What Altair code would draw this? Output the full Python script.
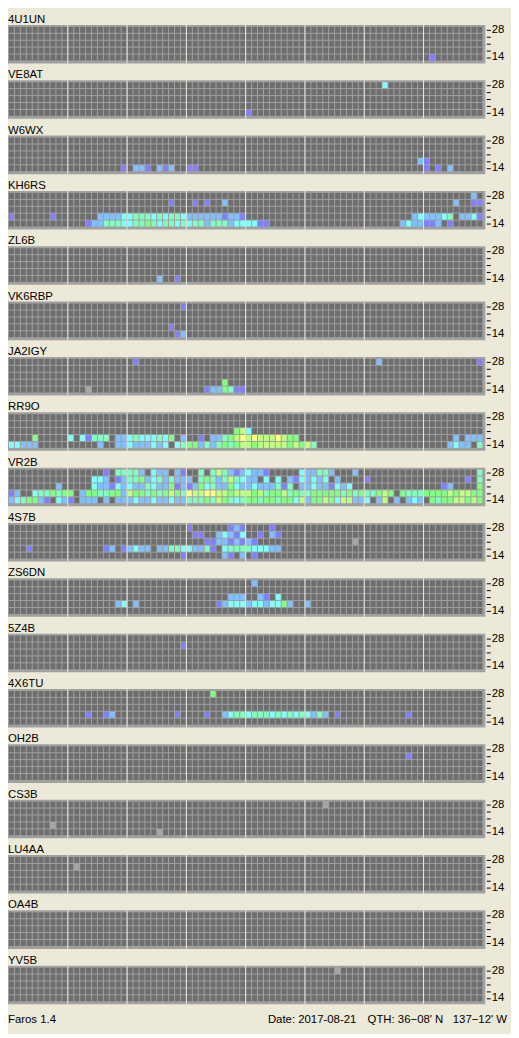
import altair as alt
import pandas as pd

FONT = "Liberation Sans"
BG = "#ece9d8"
FRAME = "#a0a0a0"

STATIONS = ["4U1UN", "VE8AT", "W6WX", "KH6RS", "ZL6B", "VK6RBP", "JA2IGY", "RR9O", "VR2B",
            "4S7B", "ZS6DN", "5Z4B", "4X6TU", "OH2B", "CS3B", "LU4AA", "OA4B", "YV5B"]
BANDS = ["28", "24", "21", "18", "14"]
N_COLS = 80
SEPARATOR_COLS = [10, 20, 30, 40, 50, 60, 70]
LEVEL_CODES = [".", "g", "p", "b", "c", "a", "G", "y", "Y"]
LEVEL_COLORS = ["#6e6e6e", "#a6a6a6", "#8080ff", "#80c0ff", "#80ffff", "#80ffc0", "#80ff80", "#c0ff80", "#ffff80"]

# runs per band row (28, 24, 21, 18, 14): "start_column:codes"
S_4U1UN = [[], [], [], [], ["71:p"]]
S_VE8AT = [["63:c"], [], [], [], ["40:p"]]
S_W6WX = [[], [], [], ["69:bp"], ["19:p.bbp.bpb", "30:pp", "70:p.p.b"]]
S_KH6RS = [["78:b"],
           ["27:p", "31:p.p..b", "75:b..pp"],
           [],
           ["0:p", "7:p", "15:bbbbc", "20:caaacacaac", "30:bbbbbbpbbp", "68:bc", "70:bbbca.bbcp"],
           ["13:pbbaaac", "20:caaGacaaca", "30:caabaaabcc", "40:ccpp", "66:bcbb", "70:ppb.p"]]
S_ZL6B = [[], [], [], [], ["25:b..p"]]
S_VK6RBP = [["29:p"], [], [], ["27:p"], ["28:pb"]]
S_JA2IGY = [["21:p", "62:b", "79:p"], [], [], ["36:G"], ["13:g", "33:pbbGapp"]]
S_RR9O = [[], [],
          ["38:Gyc"],
          ["4:G", "10:c.cpaaa.bb", "20:cacccacG.b", "30:..p.bbaGyY", "40:yYyyyYyGG.", "75:b.bbb"],
          ["0:ccbbb", "15:b..bb", "20:cbbbcbc.ca", "30:GGbabaGaGy", "40:yGyyyyyGyG", "50:ya", "74:bcbb.a"]]
S_VR2B = [["10:......p.aa", "20:aab.cbb.bp", "30:..a.ayabpb", "40:cbbp.....c", "50:bbaab...b.", "79:a"],
          ["10:....ccb.pb", "20:aaGbcababb", "30:b.aGabayac", "40:bb.c.c.bpc", "50:bcbc.b", "60:p", "77:p.a"],
          ["8:b", "10:....cbbpcb", "20:cbbacbbGpb", "30:pbGcabbGcb", "40:bcbbbapa.b", "50:bcbbpcbc", "73:pb", "79:G"],
          ["0:pb..caaGaG", "10:G.bGGaaGGb", "20:yGGaGaGyGa", "30:YyyYYyyGyy", "40:yGyaGGyaGa",
           "50:aGGGGGaGaG", "60:aaGyG.Gaaa", "70:GGGGyGyyGG"],
          ["0:bcaGGbp.cb", "10:p.bbb.b.bb", "20:bcbbcbbcbb", "30:aaaGayGaca", "40:GGaGGaGGcy",
           "50:bGGyGcyybb", "60:c.by.b.bcb", "70:.GaGGyyGyG"]]
S_4S7B = [["30:p", "37:pbp", "44:p"],
          ["31:pp", "35:bcbpc", "42:p", "44:bp"],
          ["33:ppbbpbpbp", "58:g"],
          ["3:p", "16:pb.p", "20:bcbb.bbaac", "30:cbbap.caaa", "40:acccbb"],
          ["29:p", "36:bp.b.p"]]
S_ZS6DN = [["41:b"], [], ["37:bbb", "42:bp.c"], ["18:bc.b", "35:pbcccbccbccGb", "50:b"], []]
S_5Z4B = [[], ["29:p"], [], [], []]
S_4X6TU = [["34:G"], [], [], ["13:p", "16:pb", "28:p", "33:p", "36:bcaacaaacacacacbab", "55:p", "67:p"], []]
S_OH2B = [[], ["67:p"], [], [], []]
S_CS3B = [["53:g"], [], [], ["7:g"], ["25:g"]]
S_LU4AA = [[], ["11:g"], [], [], []]
S_OA4B = [[], [], [], [], []]
S_YV5B = [["55:g"], [], [], [], []]

SIGNALS = {"4U1UN": S_4U1UN, "VE8AT": S_VE8AT, "W6WX": S_W6WX, "KH6RS": S_KH6RS, "ZL6B": S_ZL6B,
           "VK6RBP": S_VK6RBP, "JA2IGY": S_JA2IGY, "RR9O": S_RR9O, "VR2B": S_VR2B, "4S7B": S_4S7B,
           "ZS6DN": S_ZS6DN, "5Z4B": S_5Z4B, "4X6TU": S_4X6TU, "OH2B": S_OH2B, "CS3B": S_CS3B,
           "LU4AA": S_LU4AA, "OA4B": S_OA4B, "YV5B": S_YV5B}

FOOTER_LEFT = "Faros 1.4"
FOOTER_DATE = "Date: 2017-08-21"
FOOTER_QTH = "QTH: 36\u221208' N\u00a0\u00a0\u00a0137\u221212' W"

W, H = 485, 39


def build_row(runs):
    row = ["."] * N_COLS
    for run in runs:
        start, codes = run.split(":")
        for k, ch in enumerate(codes):
            row[int(start) + k] = ch
    return row


def text_layer(value, x, y, align, size):
    return alt.Chart(pd.DataFrame({"t": [value]})).mark_text(
        align=align, baseline="alphabetic", font=FONT, fontSize=size, color="black").encode(
        text="t:N", x=alt.value(x), y=alt.value(y))


def panel(name, last=False):
    recs = []
    for bi, runs in enumerate(SIGNALS[name]):
        for ci, ch in enumerate(build_row(runs)):
            recs.append({"band": BANDS[bi], "col": ci, "lvl": ch})
    df = pd.DataFrame(recs)
    xs = alt.Scale(domain=list(range(N_COLS)), paddingInner=1 / 6, paddingOuter=0.5)
    ys = alt.Scale(domain=BANDS, paddingInner=1 / 7, paddingOuter=2.5 / 7, align=0.4)
    cells = alt.Chart(df).mark_rect().encode(
        x=alt.X("col:O", scale=xs, axis=None),
        y=alt.Y("band:O", scale=ys, axis=alt.Axis(
            orient="right", title=None, domain=False, grid=False, ticks=True, tickSize=4,
            tickColor="black", tickWidth=1, offset=1, labelPadding=1, labelFont=FONT,
            labelFontSize=11.5, labelColor="black",
            labelExpr="datum.value == '28' || datum.value == '14' ? datum.value : ''")),
        color=alt.Color("lvl:N", scale=alt.Scale(domain=LEVEL_CODES, range=LEVEL_COLORS), legend=None),
    )
    seps = alt.Chart(pd.DataFrame({"col": SEPARATOR_COLS})).mark_rule(
        color=BG, strokeWidth=1, xOffset=-3).encode(
        x=alt.X("col:O", scale=xs, axis=None), y=alt.value(0), y2=alt.value(H))
    layers = [cells, seps, text_layer(name, 2, -2, "left", 11.5)]
    if last:
        layers.append(text_layer(FOOTER_LEFT, 2, 58, "left", 11.5))
        layers.append(text_layer(FOOTER_DATE, 265, 58, "left", 11.5))
        layers.append(text_layer(FOOTER_QTH, 507, 58, "right", 11.5))
    return alt.layer(*layers).properties(width=W, height=H)


panels = [panel(s, last=(i == len(STATIONS) - 1)) for i, s in enumerate(STATIONS)]
chart = alt.vconcat(*panels, spacing=17, bounds="flush", background=BG,
                    padding={"left": -2, "top": 0, "right": 4, "bottom": 2}).configure_view(
    fill=FRAME, strokeWidth=0)

chart.save("out.html", embed_options={"renderer": "svg", "actions": False})
